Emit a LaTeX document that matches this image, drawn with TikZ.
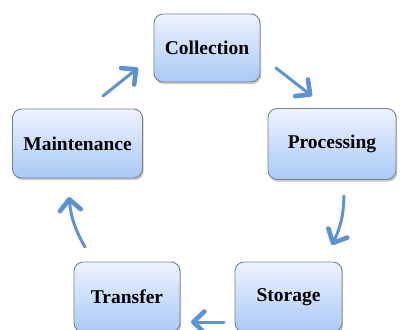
\documentclass[tikz,border=0pt]{standalone}
\usepackage{fontspec}
\setmainfont{Liberation Serif}
\usetikzlibrary{arrows.meta,shadows}
\definecolor{boxtop}{HTML}{EEF3FF}
\definecolor{boxbot}{HTML}{A9C9F7}
\definecolor{boxedge}{HTML}{7C8088}
\definecolor{arrowblue}{HTML}{5E93D3}
\tikzset{
  stage/.style={draw=boxedge, line width=0.9pt, rounded corners=9pt,
    top color=boxtop, bottom color=boxbot, align=center,
    font=\fontsize{19.5}{22}\selectfont\bfseries,
    drop shadow={shadow xshift=1.2pt, shadow yshift=-2.2pt, opacity=0.35, fill=black!60}},
  flow/.style={arrowblue, line width=3pt, line cap=round,
    -{Straight Barb[length=11pt, width=21pt, line width=4.6pt, round]}}
}
\begin{document}
\begin{tikzpicture}[x=1pt, y=-1pt]
  \useasboundingbox (0,0) rectangle (401,329);
  \node[stage, minimum width=106pt, minimum height=68pt] (col) at (207,48) {Collection};
  \node[stage, minimum width=130pt, minimum height=69pt] (mai) at (77.5,143.5) {Maintenance};
  \node[stage, minimum width=128pt, minimum height=71pt] (pro) at (332,144) {Processing};
  \node[stage, minimum width=106pt, minimum height=70pt] (tra) at (127,297) {Transfer};
  \node[stage, minimum width=107pt, minimum height=70pt] (sto) at (288.5,297) {Storage};

  \coordinate (a1s) at (103,96);  \coordinate (a1e) at (138,68);
  \coordinate (a2s) at (276,68);  \coordinate (a2e) at (312,96);
  \coordinate (a3s) at (344,196); \coordinate (a3e) at (332,245);
  \coordinate (a4s) at (224,322); \coordinate (a4e) at (191,322);
  \coordinate (a5s) at (85,247);  \coordinate (a5e) at (69,197);

  \draw[flow] (a1s) -- (a1e);
  \draw[flow] (a2s) -- (a2e);
  \draw[flow] (a3s) to[bend left=12] (a3e);
  \draw[flow] (a4s) -- (a4e);
  \draw[flow] (a5s) to[bend left=12] (a5e);
\end{tikzpicture}
\end{document}
